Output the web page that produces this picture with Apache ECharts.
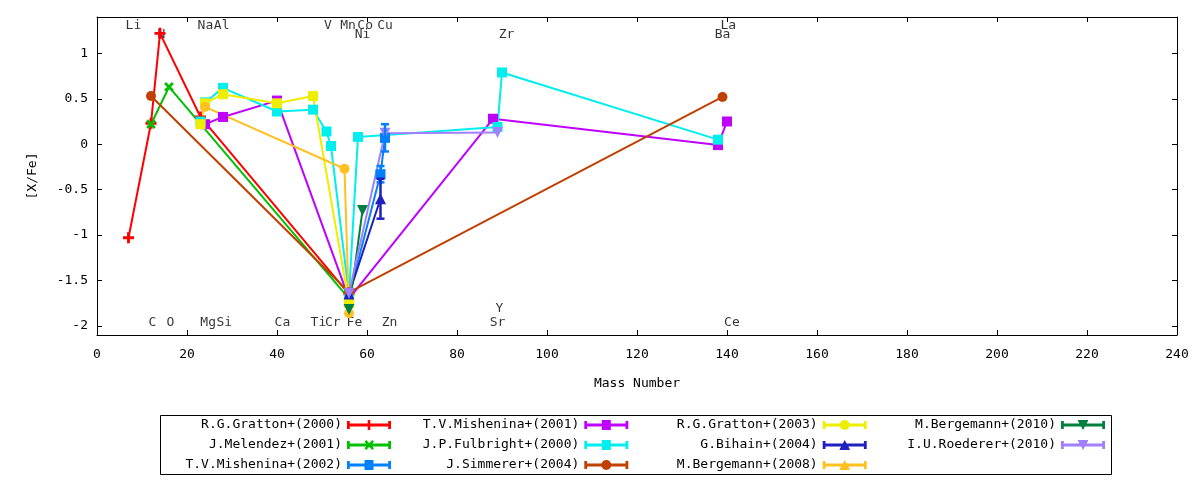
<!DOCTYPE html>
<html>
<head>
<meta charset="utf-8">
<title>[X/Fe] vs Mass Number</title>
<script src="https://cdn.jsdelivr.net/npm/echarts@6/dist/echarts.min.js"></script>
<style>
    html, body { margin: 0; padding: 0; background: #fff; }
    #chart { width: 1200px; height: 480px; }
</style>
</head>
<body>
<div id="chart"></div>
<script>
// ---- data (mass number, [X/Fe]) ----
var gratton2000Mass = [7, 12, 14, 23, 56];
var gratton2000Val = [-1.03, 0.23, 1.22, 0.30, -1.65];

var melendez2001Mass = [12, 16, 56];
var melendez2001Val = [0.22, 0.63, -1.70];

var mishenina2002Mass = [56, 63, 64];
var mishenina2002Val = [-1.67, -0.33, 0.07];
var mishenina2002Err = [0, 0.09, 0.15];

var mishenina2001Mass = [24, 28, 40, 56, 88, 138, 140];
var mishenina2001Val = [0.22, 0.30, 0.48, -1.70, 0.28, -0.01, 0.25];

var fulbright2000Mass = [23, 24, 28, 40, 48, 51, 52, 56, 58, 89, 90, 138];
var fulbright2000Val = [0.25, 0.46, 0.62, 0.36, 0.38, 0.14, -0.02, -1.66, 0.08, 0.19, 0.79, 0.05];

var simmerer2004Mass = [12, 56, 139];
var simmerer2004Val = [0.53, -1.63, 0.52];

var gratton2003Mass = [23, 24, 28, 40, 48, 56];
var gratton2003Val = [0.22, 0.45, 0.55, 0.45, 0.53, -1.75];

var bihain2004Mass = [56, 63];
var bihain2004Val = [-1.65, -0.60];
var bihain2004Err = [0, 0.22];

var bergemann2008Mass = [24, 55, 56];
var bergemann2008Val = [0.41, -0.27, -1.86];

var bergemann2010Mass = [56, 59];
var bergemann2010Val = [-1.82, -0.73];

var roederer2010Mass = [56, 64, 89];
var roederer2010Val = [-1.64, 0.12, 0.13];

// element labels written inside the plot
var elemNames = ['Li', 'Na', 'Al', 'V', 'Mn', 'Co', 'Cu', 'La',
                 'N', 'Ni', 'Zr', 'Ba',
                 'C', 'O', 'Mg', 'Si', 'Ca', 'Ti', 'Cr', 'Fe', 'Zn', 'Sr', 'Ce',
                 'Y'];
var elemX = [8.1, 24.1, 27.7, 51.3, 55.8, 59.6, 64, 140.3,
             14.3, 59, 91, 139,
             12.3, 16.3, 24.7, 28.3, 41.2, 49.2, 52.4, 57.2, 65, 89, 141.1,
             89.4];
var elemY = [1.31, 1.31, 1.31, 1.31, 1.31, 1.31, 1.31, 1.31,
             1.21, 1.21, 1.21, 1.21,
             -1.965, -1.965, -1.965, -1.965, -1.965, -1.965, -1.965, -1.965, -1.965, -1.965, -1.965,
             -1.81];

var FONT = 'DejaVu Sans Mono';

function pairs(xs, ys) {
    var out = [];
    for (var i = 0; i < xs.length; i++) out.push([xs[i], ys[i]]);
    return out;
}

function errRows(xs, ys, es) {
    var out = [];
    for (var i = 0; i < xs.length; i++) {
        if (es[i] > 0) out.push([xs[i], ys[i] - es[i], ys[i] + es[i]]);
    }
    return out;
}

// marker shapes
var plusPath = 'path://M3.7,0H6.3V3.7H10V6.3H6.3V10H3.7V6.3H0V3.7H3.7Z';

// legend icons (error bar line + point), box 44 x 10
var iconBase = 'M0,3.4H44V6.6H0Z M0,1H2.8V9H0Z M41.2,1H44V9H41.2Z ';
var iconMark = {
    plus: 'M20.7,0H23.3V10H20.7Z',
    cross: 'M17.5,1.8L19.3,0L27,8.2L25.2,10Z M25.2,0L27,1.8L19.3,10L17.5,8.2Z',
    square: 'M17.5,0H26.5V10H17.5Z',
    circle: 'M17,5A5,5,0,1,1,27,5A5,5,0,1,1,17,5Z',
    tri: 'M22,0L27,9H17Z M17,9H27V10H17Z',
    triDown: 'M17,0H27V1H17Z M17,1H27L22,10Z'
};

var studies = [
    { name: 'R.G.Gratton+(2000)', color: '#ff0000', mass: gratton2000Mass, val: gratton2000Val, symbol: plusPath, size: 11, rot: 0, icon: 'plus' },
    { name: 'J.Melendez+(2001)', color: '#00c000', mass: melendez2001Mass, val: melendez2001Val, symbol: plusPath, size: 11, rot: 45, icon: 'cross' },
    { name: 'T.V.Mishenina+(2002)', color: '#0080ff', mass: mishenina2002Mass, val: mishenina2002Val, err: mishenina2002Err, symbol: 'rect', size: 10, rot: 0, icon: 'square' },
    { name: 'T.V.Mishenina+(2001)', color: '#c000ff', mass: mishenina2001Mass, val: mishenina2001Val, symbol: 'rect', size: 10, rot: 0, icon: 'square' },
    { name: 'J.P.Fulbright+(2000)', color: '#00eeee', mass: fulbright2000Mass, val: fulbright2000Val, symbol: 'rect', size: 10, rot: 0, icon: 'square' },
    { name: 'J.Simmerer+(2004)', color: '#c04000', mass: simmerer2004Mass, val: simmerer2004Val, symbol: 'circle', size: 10, rot: 0, icon: 'circle' },
    { name: 'R.G.Gratton+(2003)', color: '#eeee00', mass: gratton2003Mass, val: gratton2003Val, symbol: 'rect', size: 10, rot: 0, icon: 'circle' },
    { name: 'G.Bihain+(2004)', color: '#2020c0', mass: bihain2004Mass, val: bihain2004Val, err: bihain2004Err, symbol: 'triangle', size: 11, rot: 0, icon: 'tri' },
    { name: 'M.Bergemann+(2008)', color: '#ffc020', mass: bergemann2008Mass, val: bergemann2008Val, symbol: 'circle', size: 10, rot: 0, icon: 'tri' },
    { name: 'M.Bergemann+(2010)', color: '#008040', mass: bergemann2010Mass, val: bergemann2010Val, symbol: 'triangle', size: 11, rot: 180, icon: 'triDown' },
    { name: 'I.U.Roederer+(2010)', color: '#a080ff', mass: roederer2010Mass, val: roederer2010Val, symbol: 'triangle', size: 11, rot: 180, icon: 'triDown' }
];

var series = [];

// element names go underneath the data
var labelData = [];
for (var k = 0; k < elemNames.length; k++) labelData.push([elemX[k], elemY[k], elemNames[k]]);
series.push({
    name: 'elements',
    type: 'scatter',
    z: 1,
    silent: true,
    symbolSize: 0,
    data: labelData,
    label: {
        show: true,
        position: 'inside',
        formatter: function (p) { return p.data[2]; },
        color: '#000',
        fontFamily: FONT,
        fontSize: 13
    }
});

studies.forEach(function (s) {
    series.push({
        name: s.name,
        type: 'line',
        z: 2,
        data: pairs(s.mass, s.val),
        symbol: s.symbol,
        symbolSize: s.size,
        symbolRotate: s.rot,
        showAllSymbol: true,
        lineStyle: { color: s.color, width: 2 },
        itemStyle: { color: s.color, borderWidth: 0 },
        emphasis: { disabled: true }
    });
    if (s.err) {
        series.push({
            name: s.name + ' err',
            type: 'custom',
            z: 3,
            silent: true,
            data: errRows(s.mass, s.val, s.err),
            renderItem: function (params, api) {
                var lo = api.coord([api.value(0), api.value(1)]);
                var hi = api.coord([api.value(0), api.value(2)]);
                var st = { stroke: s.color, lineWidth: 2.5 };
                return {
                    type: 'group',
                    children: [
                        { type: 'line', shape: { x1: lo[0], y1: lo[1], x2: hi[0], y2: hi[1] }, style: st },
                        { type: 'line', shape: { x1: lo[0] - 4, y1: lo[1], x2: lo[0] + 4, y2: lo[1] }, style: st },
                        { type: 'line', shape: { x1: hi[0] - 4, y1: hi[1], x2: hi[0] + 4, y2: hi[1] }, style: st }
                    ]
                };
            }
        });
    }
});

// legend: 4 columns, filled column by column
var legendRight = [809, 571.7, 333.3, 95];
var legends = [];
for (var c = 0; c < 4; c++) {
    var items = studies.slice(c * 3, c * 3 + 3).map(function (s) {
        return { name: s.name, icon: 'path://' + iconBase + iconMark[s.icon] };
    });
    legends.push({
        orient: 'vertical',
        align: 'right',
        right: legendRight[c],
        top: 417,
        padding: 0,
        itemWidth: 44,
        itemHeight: 10,
        itemGap: 4,
        selectedMode: false,
        data: items,
        textStyle: { fontFamily: FONT, fontSize: 13, color: '#000', lineHeight: 16 }
    });
}

var tickStyle = { show: true, inside: true, length: 5, lineStyle: { color: '#000' } };
var lineStyleBlack = { show: true, onZero: false, lineStyle: { color: '#000', width: 1 } };

function halfStep(v) {
    return Math.abs(v * 2 - Math.round(v * 2)) < 1e-6 ? String(v) : '';
}

var option = {
    animation: false,
    backgroundColor: '#fff',
    textStyle: { fontFamily: FONT },
    grid: { left: 97, right: 23, top: 17, bottom: 145 },
    legend: legends,
    xAxis: [{
        type: 'value',
        min: 0, max: 240, interval: 20,
        name: 'Mass Number',
        nameLocation: 'middle',
        nameGap: 42,
        nameTextStyle: { fontFamily: FONT, fontSize: 13, color: '#000' },
        axisLine: lineStyleBlack,
        axisTick: tickStyle,
        splitLine: { show: false },
        axisLabel: { margin: 13, fontFamily: FONT, fontSize: 13, color: '#000' }
    }, {
        type: 'value',
        position: 'top',
        min: 0, max: 240, interval: 20,
        axisLine: lineStyleBlack,
        axisTick: tickStyle,
        splitLine: { show: false },
        axisLabel: { show: false }
    }],
    yAxis: [{
        type: 'value',
        min: -2.1, max: 1.4, splitNumber: 7,
        name: '[X/Fe]',
        nameLocation: 'middle',
        nameGap: 58,
        nameTextStyle: { fontFamily: FONT, fontSize: 13, color: '#000' },
        axisLine: lineStyleBlack,
        axisTick: tickStyle,
        splitLine: { show: false },
        axisLabel: { margin: 9, fontFamily: FONT, fontSize: 13, color: '#000', formatter: halfStep }
    }, {
        type: 'value',
        position: 'right',
        min: -2.1, max: 1.4, splitNumber: 7,
        axisLine: lineStyleBlack,
        axisTick: tickStyle,
        splitLine: { show: false },
        axisLabel: { show: false }
    }],
    graphic: [{
        type: 'rect',
        shape: { x: 160.5, y: 415.5, width: 951, height: 59 },
        style: { fill: 'none', stroke: '#000', lineWidth: 1 },
        silent: true
    }],
    series: series
};

var chart = echarts.init(document.getElementById('chart'));
chart.setOption(option);
</script>
</body>
</html>
